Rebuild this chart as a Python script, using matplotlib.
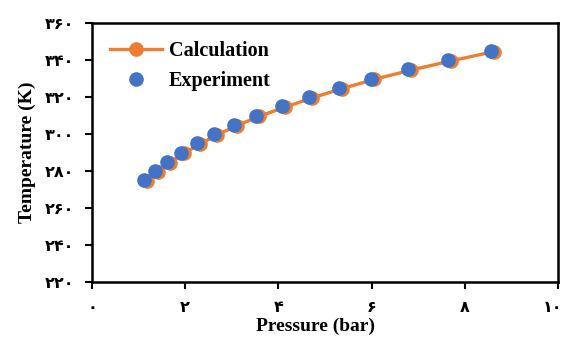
import numpy as np
import matplotlib.pyplot as plt
import matplotlib.transforms as mtransforms
from matplotlib.ticker import FixedLocator

# measured points
p_exp = [1.12, 1.35, 1.61, 1.91, 2.25, 2.62, 3.05, 3.52, 4.08, 4.66, 5.30, 5.99, 6.78, 7.64, 8.56]
t_exp = [275, 280, 285, 290, 295, 300, 305, 310, 315, 320, 325, 330, 335, 340, 345]

# model results
p_calc = [1.18, 1.41, 1.67, 1.97, 2.31, 2.68, 3.11, 3.58, 4.14, 4.72, 5.36, 6.05, 6.84, 7.70, 8.62]
t_calc = [274.5, 279.5, 284.5, 289.5, 294.5, 299.5, 304.5, 309.5, 314.5, 319.5, 324.5, 329.5, 334.5, 339.5, 344.5]

x_ticks = [0, 2, 4, 6, 8, 10]
y_ticks = [220, 240, 260, 280, 300, 320, 340, 360]


def fa_digits(n):
    return str(n).translate(str.maketrans('0123456789', '۰۱۲۳۴۵۶۷۸۹'))


plt.rcParams['font.family'] = ['Liberation Serif', 'DejaVu Sans']

fig = plt.figure(figsize=(5.66, 3.41), dpi=100)
ax = fig.add_axes([92 / 566, 1 - 282 / 341, 466 / 566, 259 / 341])

ax.plot(p_calc, t_calc, '-o', color='#ED7D31', lw=2.4, ms=9.5, label='Calculation', zorder=2)
ax.plot(p_exp, t_exp, 'o', color='#4472C4', ms=9.5, label='Experiment', zorder=3)

ax.set_xlim(0, 10)
ax.set_ylim(220, 360)
ax.xaxis.set_major_locator(FixedLocator(x_ticks))
ax.yaxis.set_major_locator(FixedLocator(y_ticks))
ax.set_xticklabels([fa_digits(v) for v in x_ticks], fontsize=11.5, fontweight='bold', family='DejaVu Sans')
ax.set_yticklabels([fa_digits(v) for v in y_ticks], fontsize=11.5, fontweight='bold', family='DejaVu Sans')
ax.tick_params(direction='out', length=5, width=1.5, pad=8)
for s in ax.spines.values():
    s.set_linewidth(1.8)

# nudge the last x label so it stays inside the figure
last = ax.get_xticklabels()[-1]
last.set_transform(last.get_transform() + mtransforms.ScaledTranslation(-5 / 100, 0, fig.dpi_scale_trans))

ax.set_xlabel('Pressure (bar)', fontsize=14, fontweight='bold', labelpad=2, x=0.48)
ax.set_ylabel('Temperature (K)', fontsize=14, fontweight='bold', labelpad=6)

ax.legend(loc='upper left', frameon=False, prop={'size': 14.5, 'weight': 'bold'},
          handlelength=2.6, handletextpad=0.3, borderaxespad=0.5, labelspacing=0.5)

fig.savefig('out.png', dpi=100)
